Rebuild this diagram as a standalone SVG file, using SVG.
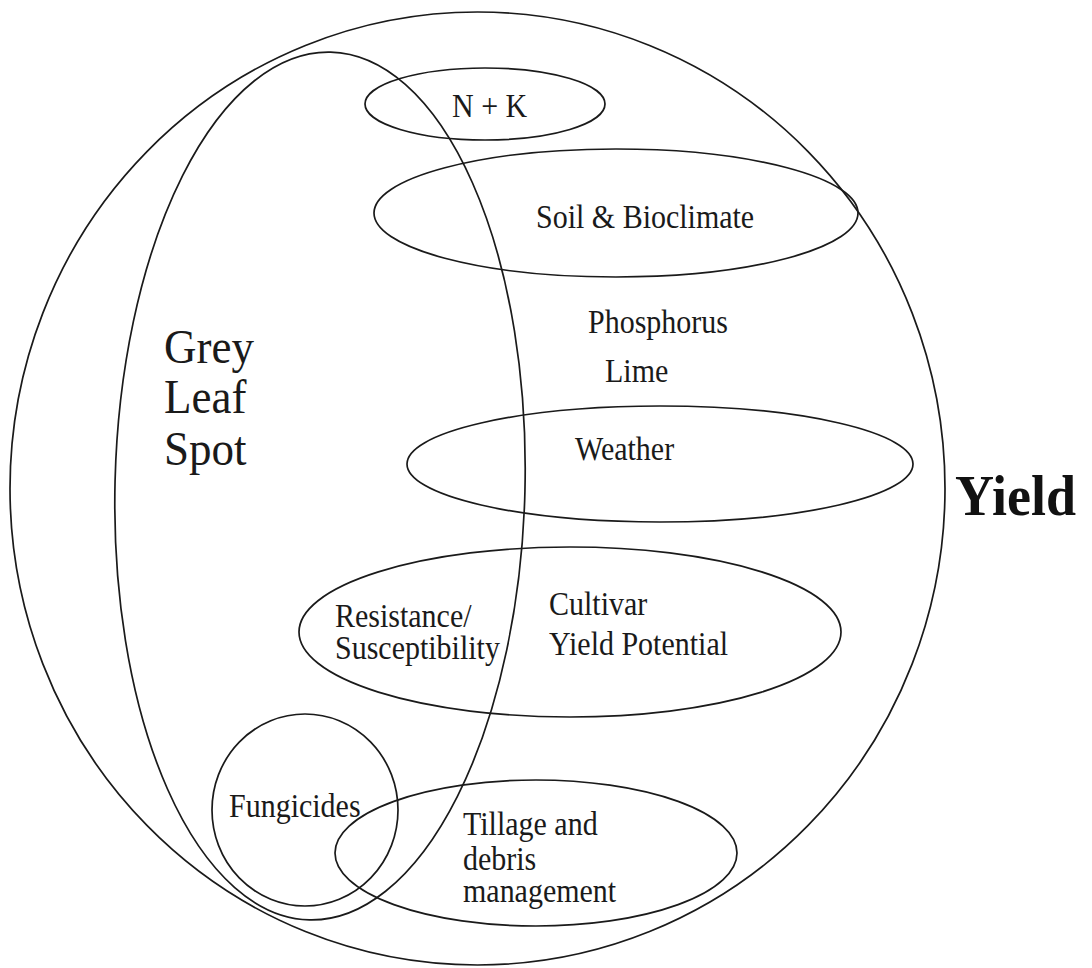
<svg xmlns="http://www.w3.org/2000/svg" width="1092" height="968" viewBox="0 0 1092 968">
<style>
.s{fill:none;stroke:#1a1a1a;stroke-width:1.7}
.t{font-family:"Liberation Serif","Times New Roman",serif;font-size:30px;fill:#1a1a1a}
.big{font-family:"Liberation Serif","Times New Roman",serif;font-size:45px;fill:#1a1a1a}
.y{font-family:"Liberation Serif","Times New Roman",serif;font-size:54px;font-weight:bold;fill:#111}
</style>
<rect width="1092" height="968" fill="#fff"/>
<g id="yield">
<ellipse class="s" cx="477.5" cy="488.5" rx="467.5" ry="476.5"/>
<text class="y" transform="translate(955 515) scale(1 1.05)">Yield</text>
</g>
<g id="grey-leaf-spot">
<ellipse class="s" cx="320" cy="486" rx="205" ry="434" transform="rotate(1.4 320 486)"/>
<text class="big" transform="translate(164 363) scale(1 1.1)">Grey</text>
<text class="big" transform="translate(164 413) scale(1 1.1)">Leaf</text>
<text class="big" transform="translate(164 465) scale(1 1.1)">Spot</text>
</g>
<g id="nk">
<ellipse class="s" cx="485" cy="104" rx="120" ry="36"/>
<text class="t" transform="translate(452 117) scale(1 1.1)">N + K</text>
</g>
<g id="soil">
<ellipse class="s" cx="616" cy="213" rx="242" ry="64"/>
<text class="t" transform="translate(536 228) scale(1 1.1)">Soil &amp; Bioclimate</text>
</g>
<g id="phosphorus">
<text class="t" transform="translate(588 333) scale(1 1.1)">Phosphorus</text>
</g>
<g id="lime">
<text class="t" transform="translate(605 382) scale(1 1.1)">Lime</text>
</g>
<g id="weather">
<ellipse class="s" cx="660" cy="464" rx="253" ry="58"/>
<text class="t" transform="translate(575 460) scale(1 1.1)">Weather</text>
</g>
<g id="cultivar">
<ellipse class="s" cx="570" cy="632" rx="271" ry="85"/>
<text class="t" transform="translate(335 627) scale(1 1.1)">Resistance/</text>
<text class="t" transform="translate(335 659) scale(1 1.1)">Susceptibility</text>
<text class="t" transform="translate(549 615) scale(1 1.1)">Cultivar</text>
<text class="t" transform="translate(549 655) scale(1 1.1)">Yield Potential</text>
</g>
<g id="fungicides">
<ellipse class="s" cx="305" cy="810" rx="93" ry="96"/>
<text class="t" transform="translate(229 817) scale(1 1.1)">Fungicides</text>
</g>
<g id="tillage">
<ellipse class="s" cx="536" cy="853" rx="201" ry="73"/>
<text class="t" transform="translate(463 835) scale(1 1.1)">Tillage and</text>
<text class="t" transform="translate(463 870) scale(1 1.1)">debris</text>
<text class="t" transform="translate(463 902) scale(1 1.1)">management</text>
</g>
</svg>
